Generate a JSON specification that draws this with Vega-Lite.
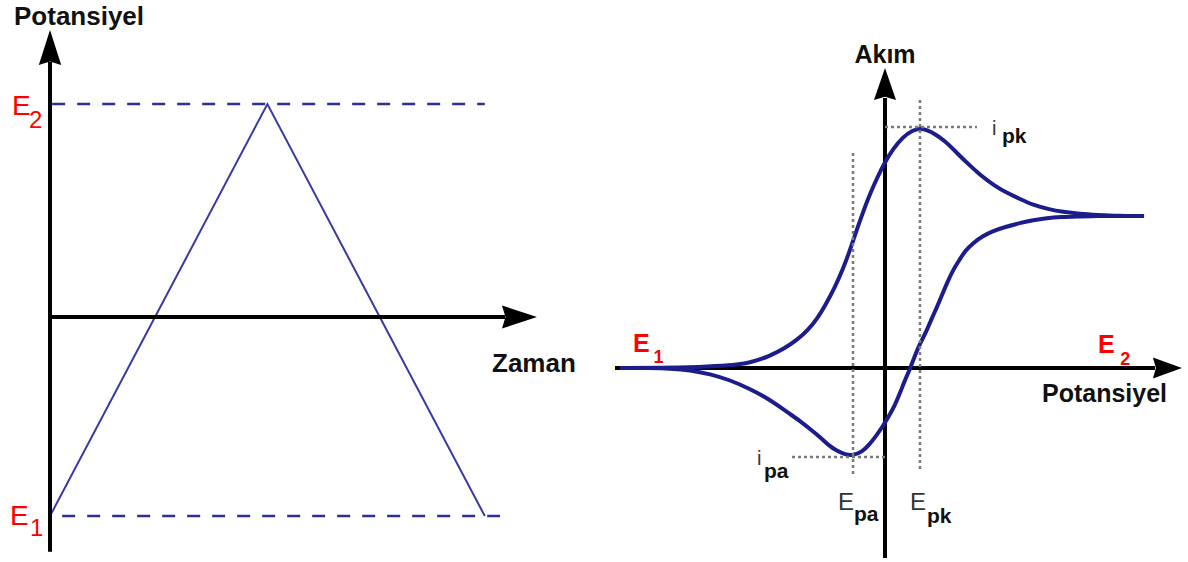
{
  "$schema": "https://vega.github.io/schema/vega-lite/v6.json",
  "padding": 0,
  "spacing": 0,
  "bounds": "flush",
  "background": "white",
  "config": {
    "view": {"stroke": null},
    "text": {"font": "Liberation Sans", "align": "left", "baseline": "alphabetic"}
  },
  "hconcat": [
    {
      "width": 600,
      "height": 562,
      "encoding": {
        "x": {"type": "quantitative", "scale": {"domain": [-1.15, 12.65], "nice": false, "zero": false}, "axis": null},
        "y": {"type": "quantitative", "scale": {"domain": [-0.4925, 0.6372], "nice": false, "zero": false}, "axis": null}
      },
      "layer": [
        {
          "data": {"values": [
            {"level": "E2", "t0": 0.05, "t1": 10.0, "E": 0.428},
            {"level": "E1", "t0": 0.28, "t1": 10.35, "E": -0.4}
          ]},
          "mark": {"type": "rule", "color": "#2e2e99", "strokeWidth": 2.5, "strokeDash": [13, 12]},
          "encoding": {"x": {"field": "t0"}, "x2": {"field": "t1"}, "y": {"field": "E"}}
        },
        {
          "data": {"values": [
            {"t": 0, "E": -0.4},
            {"t": 5, "E": 0.428},
            {"t": 10, "E": -0.4}
          ]},
          "mark": {"type": "line", "color": "#3a3aa0", "strokeWidth": 2},
          "encoding": {"x": {"field": "t"}, "y": {"field": "E"}, "order": {"field": "t"}}
        },
        {
          "data": {"values": [
            {"axis": "potential", "t0": 0, "t1": 0, "E0": -0.472, "E1": 0.5126},
            {"axis": "time", "t0": 0, "t1": 10.465, "E0": 0, "E1": 0}
          ]},
          "mark": {"type": "rule", "color": "black", "strokeWidth": 4},
          "encoding": {"x": {"field": "t0"}, "x2": {"field": "t1"}, "y": {"field": "E0"}, "y2": {"field": "E1"}}
        },
        {
          "data": {"values": [{"t": 0, "E": 0.5417}]},
          "mark": {"type": "point", "shape": "M0,-1L0.64,1L0,0.8L-0.64,1Z", "size": 1225, "filled": true, "color": "black", "opacity": 1},
          "encoding": {"x": {"field": "t"}, "y": {"field": "E"}}
        },
        {
          "data": {"values": [{"t": 10.798, "E": 0}]},
          "mark": {"type": "point", "shape": "M0,-1L0.66,1L0,0.8L-0.66,1Z", "angle": 90, "size": 1225, "filled": true, "color": "black", "opacity": 1},
          "encoding": {"x": {"field": "t"}, "y": {"field": "E"}}
        },
        {
          "data": {"values": [
            {"text": "Potansiyel", "t": -0.828, "E": 0.587},
            {"text": "Zaman", "t": 10.166, "E": -0.1106}
          ]},
          "mark": {"type": "text", "fontWeight": "bold", "fontSize": 26, "fill": "#111"},
          "encoding": {"x": {"field": "t"}, "y": {"field": "E"}, "text": {"field": "text"}}
        },
        {
          "data": {"values": [
            {"text": "E", "t": -0.874, "E": 0.406},
            {"text": "E", "t": -0.92, "E": -0.418}
          ]},
          "mark": {"type": "text", "fontSize": 28, "fill": "#ff0000"},
          "encoding": {"x": {"field": "t"}, "y": {"field": "E"}, "text": {"field": "text"}}
        },
        {
          "data": {"values": [
            {"text": "2", "t": -0.483, "E": 0.38},
            {"text": "1", "t": -0.46, "E": -0.44}
          ]},
          "mark": {"type": "text", "fontSize": 24, "fill": "#ff0000"},
          "encoding": {"x": {"field": "t"}, "y": {"field": "E"}, "text": {"field": "text"}}
        }
      ]
    },
    {
      "width": 588,
      "height": 562,
      "encoding": {
        "x": {"type": "quantitative", "scale": {"domain": [-0.4385, 0.4662], "nice": false, "zero": false}, "axis": null},
        "y": {"type": "quantitative", "scale": {"domain": [-19.4, 36.8], "nice": false, "zero": false}, "axis": null}
      },
      "layer": [
        {
          "data": {"values": [
            {"axis": "potential", "v0": -0.4154, "v1": 0.4154, "i0": 0, "i1": 0},
            {"axis": "current", "v0": 0, "v1": 0, "i0": -19.0, "i1": 27.0}
          ]},
          "mark": {"type": "rule", "color": "black", "strokeWidth": 4},
          "encoding": {"x": {"field": "v0"}, "x2": {"field": "v1"}, "y": {"field": "i0"}, "y2": {"field": "i1"}}
        },
        {
          "data": {"values": [
            {"step": 1, "v": -0.4077, "i": 0},
            {"step": 2, "v": -0.3462, "i": 0},
            {"step": 3, "v": -0.2846, "i": 0.1},
            {"step": 4, "v": -0.2385, "i": 0.25},
            {"step": 5, "v": -0.2077, "i": 0.5},
            {"step": 6, "v": -0.1769, "i": 1.2},
            {"step": 7, "v": -0.1538, "i": 2.0},
            {"step": 8, "v": -0.1354, "i": 2.8},
            {"step": 9, "v": -0.1185, "i": 3.8},
            {"step": 10, "v": -0.1046, "i": 4.9},
            {"step": 11, "v": -0.0908, "i": 6.4},
            {"step": 12, "v": -0.0769, "i": 8.1},
            {"step": 13, "v": -0.0646, "i": 9.9},
            {"step": 14, "v": -0.0538, "i": 11.8},
            {"step": 15, "v": -0.0446, "i": 13.6},
            {"step": 16, "v": -0.0338, "i": 15.6},
            {"step": 17, "v": -0.0231, "i": 17.4},
            {"step": 18, "v": -0.0123, "i": 19.0},
            {"step": 19, "v": 0, "i": 20.6},
            {"step": 20, "v": 0.0123, "i": 21.9},
            {"step": 21, "v": 0.0277, "i": 23.1},
            {"step": 22, "v": 0.0415, "i": 23.75},
            {"step": 23, "v": 0.0538, "i": 23.95},
            {"step": 24, "v": 0.0646, "i": 23.8},
            {"step": 25, "v": 0.0769, "i": 23.4},
            {"step": 26, "v": 0.0923, "i": 22.7},
            {"step": 27, "v": 0.1077, "i": 21.7},
            {"step": 28, "v": 0.1231, "i": 20.7},
            {"step": 29, "v": 0.1462, "i": 19.3},
            {"step": 30, "v": 0.1692, "i": 18.2},
            {"step": 31, "v": 0.1877, "i": 17.5},
            {"step": 32, "v": 0.2077, "i": 16.9},
            {"step": 33, "v": 0.2277, "i": 16.3},
            {"step": 34, "v": 0.2508, "i": 15.9},
            {"step": 35, "v": 0.2738, "i": 15.6},
            {"step": 36, "v": 0.3, "i": 15.4},
            {"step": 37, "v": 0.3262, "i": 15.3},
            {"step": 38, "v": 0.3615, "i": 15.2},
            {"step": 39, "v": 0.39, "i": 15.2},
            {"step": 40, "v": 0.403, "i": 15.2},
            {"step": 41, "v": 0.39, "i": 15.2},
            {"step": 42, "v": 0.3615, "i": 15.2},
            {"step": 43, "v": 0.3262, "i": 15.2},
            {"step": 44, "v": 0.3, "i": 15.15},
            {"step": 45, "v": 0.2692, "i": 15.1},
            {"step": 46, "v": 0.2492, "i": 15.0},
            {"step": 47, "v": 0.2277, "i": 14.8},
            {"step": 48, "v": 0.2077, "i": 14.5},
            {"step": 49, "v": 0.1846, "i": 14.1},
            {"step": 50, "v": 0.1662, "i": 13.7},
            {"step": 51, "v": 0.1508, "i": 13.2},
            {"step": 52, "v": 0.1354, "i": 12.5},
            {"step": 53, "v": 0.1231, "i": 11.7},
            {"step": 54, "v": 0.1154, "i": 10.9},
            {"step": 55, "v": 0.1046, "i": 9.8},
            {"step": 56, "v": 0.0954, "i": 8.5},
            {"step": 57, "v": 0.0877, "i": 7.3},
            {"step": 58, "v": 0.08, "i": 6.1},
            {"step": 59, "v": 0.0723, "i": 5.0},
            {"step": 60, "v": 0.0646, "i": 3.8},
            {"step": 61, "v": 0.0569, "i": 2.8},
            {"step": 62, "v": 0.0508, "i": 2.0},
            {"step": 63, "v": 0.0446, "i": 1.0},
            {"step": 64, "v": 0.0385, "i": -0.1},
            {"step": 65, "v": 0.0308, "i": -1.2},
            {"step": 66, "v": 0.0231, "i": -2.5},
            {"step": 67, "v": 0.0154, "i": -3.7},
            {"step": 68, "v": 0.0062, "i": -4.8},
            {"step": 69, "v": -0.0031, "i": -5.8},
            {"step": 70, "v": -0.0138, "i": -6.8},
            {"step": 71, "v": -0.0246, "i": -7.7},
            {"step": 72, "v": -0.0354, "i": -8.4},
            {"step": 73, "v": -0.0492, "i": -8.75},
            {"step": 74, "v": -0.0615, "i": -8.65},
            {"step": 75, "v": -0.0738, "i": -8.3},
            {"step": 76, "v": -0.0877, "i": -7.7},
            {"step": 77, "v": -0.1, "i": -6.9},
            {"step": 78, "v": -0.1154, "i": -6.1},
            {"step": 79, "v": -0.1308, "i": -5.3},
            {"step": 80, "v": -0.1462, "i": -4.6},
            {"step": 81, "v": -0.1615, "i": -3.9},
            {"step": 82, "v": -0.1815, "i": -3.0},
            {"step": 83, "v": -0.2077, "i": -2.1},
            {"step": 84, "v": -0.2385, "i": -1.2},
            {"step": 85, "v": -0.2692, "i": -0.6},
            {"step": 86, "v": -0.3, "i": -0.2},
            {"step": 87, "v": -0.3308, "i": -0.05},
            {"step": 88, "v": -0.3615, "i": 0},
            {"step": 89, "v": -0.4077, "i": 0}
          ]},
          "mark": {"type": "line", "color": "#1c1c8c", "strokeWidth": 4, "interpolate": "basis"},
          "encoding": {"x": {"field": "v"}, "y": {"field": "i"}, "order": {"field": "step"}}
        },
        {
          "data": {"values": [
            {"guide": "Epa", "v0": -0.0492, "v1": -0.0492, "i0": 21.5, "i1": -10.9},
            {"guide": "Epk", "v0": 0.0538, "v1": 0.0538, "i0": 26.8, "i1": -10.4},
            {"guide": "ipk", "v0": 0, "v1": 0.1415, "i0": 24.1, "i1": 24.1},
            {"guide": "ipa", "v0": -0.1431, "v1": 0, "i0": -8.9, "i1": -8.9}
          ]},
          "mark": {"type": "rule", "color": "#7a7a7a", "strokeWidth": 2.5, "strokeDash": [3, 3]},
          "encoding": {"x": {"field": "v0"}, "x2": {"field": "v1"}, "y": {"field": "i0"}, "y2": {"field": "i1"}}
        },
        {
          "data": {"values": [{"v": 0, "i": 28.4}]},
          "mark": {"type": "point", "shape": "M0,-1L0.69,1L0,0.8L-0.69,1Z", "size": 1024, "filled": true, "color": "black", "opacity": 1},
          "encoding": {"x": {"field": "v"}, "y": {"field": "i"}}
        },
        {
          "data": {"values": [{"v": 0.4346, "i": 0}]},
          "mark": {"type": "point", "shape": "M0,-1L0.72,1L0,0.8L-0.72,1Z", "angle": 90, "size": 841, "filled": true, "color": "black", "opacity": 1},
          "encoding": {"x": {"field": "v"}, "y": {"field": "i"}}
        },
        {
          "data": {"values": [
            {"text": "Akım", "v": 0, "i": 30.5}
          ]},
          "mark": {"type": "text", "fontWeight": "bold", "fontSize": 25, "fill": "#111", "align": "center"},
          "encoding": {"x": {"field": "v"}, "y": {"field": "i"}, "text": {"field": "text"}}
        },
        {
          "data": {"values": [
            {"text": "Potansiyel", "v": 0.2415, "i": -3.4}
          ]},
          "mark": {"type": "text", "fontWeight": "bold", "fontSize": 25, "fill": "#111"},
          "encoding": {"x": {"field": "v"}, "y": {"field": "i"}, "text": {"field": "text"}}
        },
        {
          "data": {"values": [
            {"text": "E", "v": -0.3877, "i": 1.6},
            {"text": "E", "v": 0.3277, "i": 1.5}
          ]},
          "mark": {"type": "text", "fontWeight": "bold", "fontSize": 25, "fill": "#ff0000"},
          "encoding": {"x": {"field": "v"}, "y": {"field": "i"}, "text": {"field": "text"}}
        },
        {
          "data": {"values": [
            {"text": "1", "v": -0.3562, "i": 0.5},
            {"text": "2", "v": 0.362, "i": 0.3}
          ]},
          "mark": {"type": "text", "fontWeight": "bold", "fontSize": 18, "fill": "#ff0000"},
          "encoding": {"x": {"field": "v"}, "y": {"field": "i"}, "text": {"field": "text"}}
        },
        {
          "data": {"values": [
            {"text": "i", "v": 0.1646, "i": 23.3},
            {"text": "i", "v": -0.1969, "i": -9.7}
          ]},
          "mark": {"type": "text", "fontSize": 20, "fill": "#333"},
          "encoding": {"x": {"field": "v"}, "y": {"field": "i"}, "text": {"field": "text"}}
        },
        {
          "data": {"values": [
            {"text": "E", "v": -0.0723, "i": -14.2},
            {"text": "E", "v": 0.0385, "i": -14.2}
          ]},
          "mark": {"type": "text", "fontSize": 24, "fill": "#333"},
          "encoding": {"x": {"field": "v"}, "y": {"field": "i"}, "text": {"field": "text"}}
        },
        {
          "data": {"values": [
            {"text": "pk", "v": 0.18, "i": 22.5},
            {"text": "pa", "v": -0.1862, "i": -11.0},
            {"text": "pa", "v": -0.0477, "i": -15.3},
            {"text": "pk", "v": 0.0646, "i": -15.5}
          ]},
          "mark": {"type": "text", "fontWeight": "bold", "fontSize": 21, "fill": "#111"},
          "encoding": {"x": {"field": "v"}, "y": {"field": "i"}, "text": {"field": "text"}}
        }
      ]
    }
  ]
}
